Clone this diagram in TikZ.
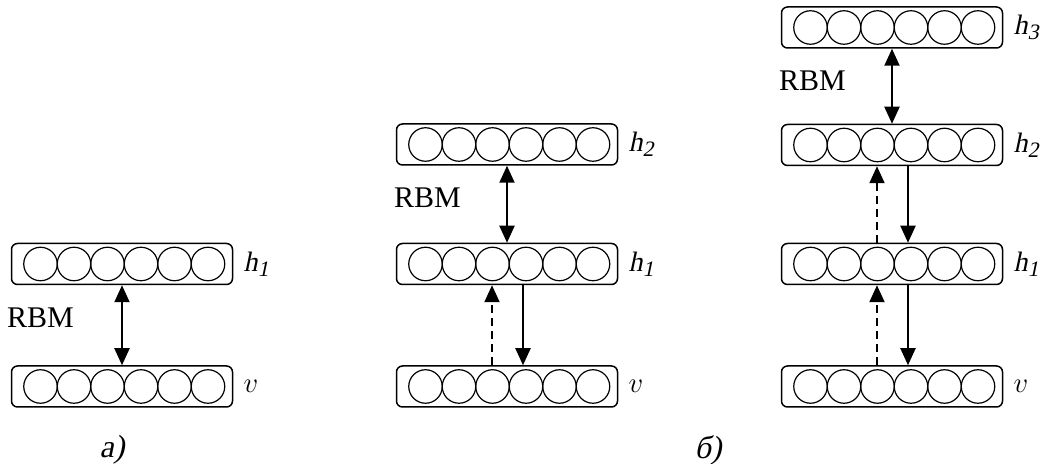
\documentclass[tikz,border=0pt]{standalone}
\usepackage{fontspec}
\setmainfont{Liberation Serif}
\newfontfamily\slserif{Liberation Serif}[FakeSlant=0.21]
\usetikzlibrary{arrows.meta}

\tikzset{
  layer/.style={draw, line width=0.75pt, rounded corners=3pt, minimum width=110.5pt, minimum height=20.5pt, inner sep=0pt},
  neuron/.style={draw, circle, line width=0.6pt, minimum size=16.75pt, inner sep=0pt},
  arr/.style={line width=1pt, -{Triangle[length=8.5pt,width=7.5pt]}},
  darr/.style={line width=1pt, {Triangle[length=8.5pt,width=7.5pt]}-{Triangle[length=8.5pt,width=7.5pt]}},
  lbl/.style={anchor=west, inner sep=0pt, font=\fontsize{14}{16}\selectfont\slserif},
  rbm/.style={anchor=west, inner sep=0pt, font=\fontsize{15}{18}\selectfont},
  caption/.style={font=\fontsize{16}{18}\selectfont\slserif}
}
\newcommand{\lyr}[2]{#1\raisebox{-0.4ex}{\fontsize{11}{12}\selectfont#2}}

\begin{document}
\begin{tikzpicture}[x=0.5pt, y=-0.5pt]
  \useasboundingbox (0,0) rectangle (1041,464);

  % Draw the layers with their units and names
  \foreach \col/\lay/\x/\y/\txt in {a/h1/122/264/{\lyr{h}{1}}, a/v/122/386.5/{\fontsize{14}{16}\selectfont$v$},
      b/h2/507/144.5/{\lyr{h}{2}}, b/h1/507/264/{\lyr{h}{1}}, b/v/507/386.5/{\fontsize{14}{16}\selectfont$v$},
      c/h3/892/27.5/{\lyr{h}{3}}, c/h2/892/145/{\lyr{h}{2}}, c/h1/892/264/{\lyr{h}{1}}, c/v/892/386.5/{\fontsize{14}{16}\selectfont$v$}} {
    \node[layer] (\col-\lay) at (\x,\y) {};
    \foreach \i in {1,...,6}
      \node[neuron] (\col-\lay-\i) at ([xshift={6.5pt+(\i-0.5)*16.75pt}]\col-\lay.west) {};
    \node[lbl] (\col-\lay-name) at ([xshift=5pt]\col-\lay.east) {\txt};
  }

  % RBM between the top two layers
  \node[rbm] (rbm-a) at ([xshift=-2pt, yshift=-27pt]a-h1.west) {RBM};
  \node[rbm] (rbm-b) at ([xshift=-1pt, yshift=-26.5pt]b-h2.west) {RBM};
  \node[rbm] (rbm-c) at ([xshift=-1pt, yshift=-26.5pt]c-h3.west) {RBM};

  \draw[darr] (a-h1) -- (a-v);
  \draw[darr] (b-h2) -- (b-h1);
  \draw[darr] (c-h3) -- (c-h2);

  % Up (dashed) and down arrows between lower layers
  \foreach \lo/\hi in {b-v/b-h1, c-v/c-h1, c-h1/c-h2} {
    \draw[arr, dash pattern=on 4pt off 2.5pt] ([xshift=-7.5pt]\lo.north) -- ([xshift=-7.5pt]\hi.south);
    \draw[arr] ([xshift=8pt]\hi.south) -- ([xshift=8pt]\lo.north);
  }

  % Captions
  \node[caption] (cap-a) at (112,450) {а)};
  \node[caption] (cap-b) at (708,450) {б)};
\end{tikzpicture}
\end{document}
